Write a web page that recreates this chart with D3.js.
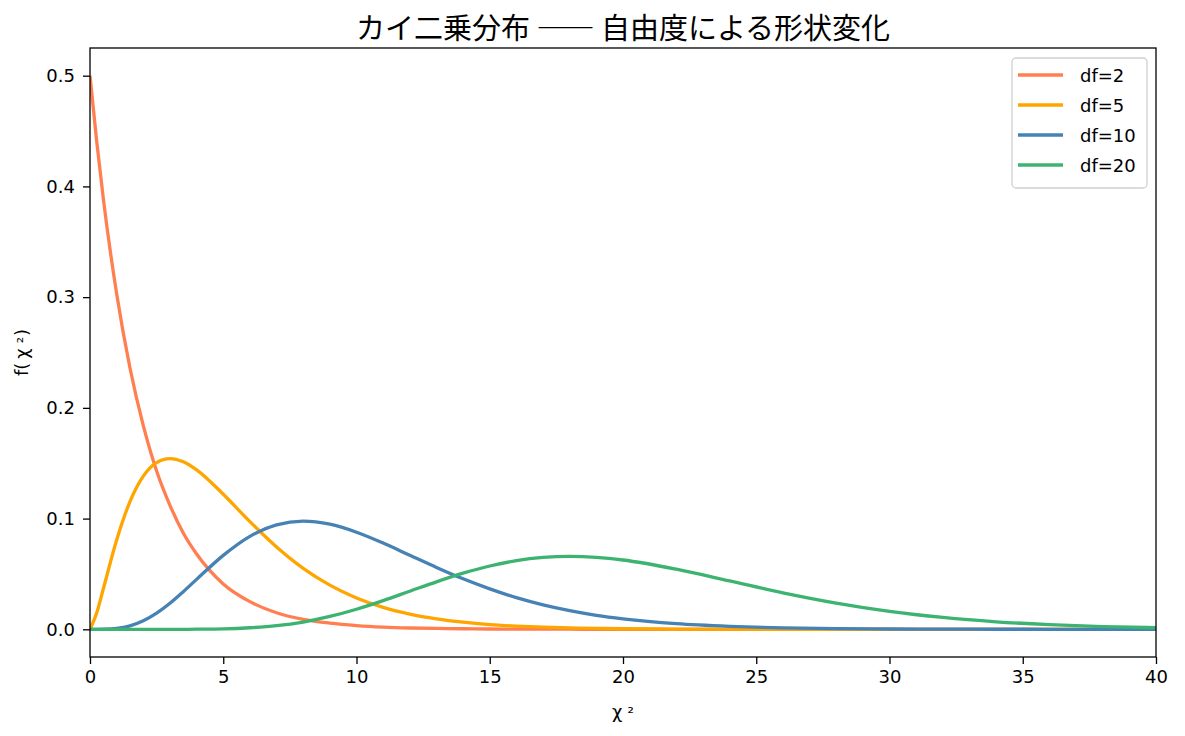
<!DOCTYPE html>
<html>
<head>
<meta charset="utf-8">
<script src="https://cdn.jsdelivr.net/npm/d3@7"></script>
<style>
  body { margin: 0; background: #fff; }
  text { fill: #000; }
</style>
</head>
<body>
<svg id="chart"></svg>
<script>
// values (x = chi-square, y = density)
var xs = [0, 0.25, 0.5, 1, 1.5, 2, 2.5, 3, 3.5, 4, 5, 6, 7, 8, 9, 10, 11, 12, 13, 14, 15, 16, 17, 18, 19, 20, 22, 24, 26, 28, 30, 32, 34, 36, 38, 40];
var df2 = [0.5, 0.441, 0.389, 0.303, 0.236, 0.184, 0.143, 0.112, 0.087, 0.068, 0.041, 0.025, 0.015, 0.009, 0.0056, 0.0034, 0.002, 0.0012, 0.0008, 0.0005, 0.0003, 0.0002, 0.0001, 0.0001, 0, 0, 0, 0, 0, 0, 0, 0, 0, 0, 0, 0];
var df5 = [0, 0.0147, 0.0366, 0.0807, 0.1154, 0.1384, 0.1506, 0.1542, 0.1513, 0.144, 0.122, 0.0973, 0.0744, 0.0551, 0.0399, 0.0283, 0.0198, 0.0137, 0.0094, 0.0064, 0.0043, 0.0029, 0.0019, 0.0013, 0.0008, 0.0005, 0.0002, 0.0001, 0, 0, 0, 0, 0, 0, 0, 0];
var df10 = [0, 0, 0.0001, 0.0008, 0.0031, 0.0077, 0.0146, 0.0235, 0.034, 0.0451, 0.0668, 0.084, 0.0944, 0.0977, 0.0949, 0.0877, 0.0779, 0.0669, 0.0559, 0.0456, 0.0365, 0.0286, 0.0221, 0.0169, 0.0127, 0.0095, 0.0051, 0.0027, 0.0013, 0.0007, 0.0003, 0.00015, 0.00007, 0.00003, 0, 0];
var df20 = [0, 0, 0, 0, 0, 0, 0, 0, 0, 0.0001, 0.0004, 0.0014, 0.0033, 0.0066, 0.0116, 0.0181, 0.0259, 0.0344, 0.0429, 0.0507, 0.0572, 0.062, 0.0649, 0.0659, 0.065, 0.0626, 0.0543, 0.0437, 0.033, 0.0237, 0.0162, 0.0107, 0.0068, 0.0042, 0.0025, 0.0015];
var seriesNames = ["df=2", "df=5", "df=10", "df=20"];
var seriesValues = [df2, df5, df10, df20];
var colors = ["#ff7f50", "#ffa500", "#4682b4", "#3cb371"];
var xTicks = [0, 5, 10, 15, 20, 25, 30, 35, 40];
var yTicks = [0, 0.1, 0.2, 0.3, 0.4, 0.5];

var W = 1185, H = 736;
var m = {left: 90, right: 29, top: 48, bottom: 79};
var latin = "'DejaVu Sans', sans-serif";
var cjk = "'Noto Sans CJK JP', sans-serif";
var svg = d3.select("#chart").attr("width", W).attr("height", H);

var x = d3.scaleLinear().domain([0, 40]).range([m.left, W - m.right]);
var y = d3.scaleLinear().domain([-0.025, 0.525]).range([H - m.bottom, m.top]);

var line = d3.line()
    .x(function(d) { return x(d[0]); })
    .y(function(d) { return y(d[1]); })
    .curve(d3.curveMonotoneX);

var plot = svg.append("g");
plot.append("clipPath").attr("id", "clip").append("rect")
    .attr("x", m.left).attr("y", m.top)
    .attr("width", W - m.left - m.right).attr("height", H - m.top - m.bottom);

seriesValues.forEach(function(vals, i) {
  plot.append("path")
      .datum(xs.map(function(v, j) { return [v, vals[j]]; }))
      .attr("clip-path", "url(#clip)")
      .attr("fill", "none")
      .attr("stroke", colors[i])
      .attr("stroke-width", 3.3)
      .attr("stroke-linejoin", "round")
      .attr("d", line);
});

// axes
var xAxis = svg.append("g")
    .attr("transform", `translate(0, ${H - m.bottom})`)
    .call(d3.axisBottom(x).tickValues(xTicks).tickSize(7).tickPadding(6).tickFormat(d3.format("d")));
var yAxis = svg.append("g")
    .attr("transform", `translate(${m.left}, 0)`)
    .call(d3.axisLeft(y).tickValues(yTicks).tickSize(7).tickPadding(8).tickFormat(d3.format(".1f")));
[xAxis, yAxis].forEach(function(a) {
  a.select(".domain").remove();
  a.selectAll("line").attr("stroke", "#000").attr("stroke-width", 1.3);
  a.selectAll("text").attr("font-size", 18).attr("fill", "#000").style("font-family", latin);
});

svg.append("rect")
    .attr("x", m.left).attr("y", m.top)
    .attr("width", W - m.left - m.right).attr("height", H - m.top - m.bottom)
    .attr("fill", "none").attr("stroke", "#000").attr("stroke-width", 1.3);

// title and labels
svg.append("text")
    .attr("x", (m.left + W - m.right) / 2).attr("y", 39)
    .attr("text-anchor", "middle").attr("font-size", 29)
    .style("font-family", cjk)
    .text("カイ二乗分布 ―― 自由度による形状変化");

var xl = svg.append("text")
    .attr("x", (m.left + W - m.right) / 2).attr("y", 718)
    .attr("text-anchor", "middle").attr("font-size", 18)
    .style("font-family", latin);
xl.append("tspan").text("χ");
xl.append("tspan").attr("dx", 5).attr("font-size", 16).text("²");

var yl = svg.append("text")
    .attr("transform", `translate(28, ${(m.top + H - m.bottom) / 2}) rotate(-90)`)
    .attr("text-anchor", "middle").attr("font-size", 18)
    .style("font-family", latin);
yl.append("tspan").text("f(");
yl.append("tspan").attr("dx", 4).text("χ");
yl.append("tspan").attr("dx", 5).attr("font-size", 16).text("²");
yl.append("tspan").attr("dx", 1).text(")");

// legend
var lg = svg.append("g").attr("transform", "translate(1012, 58)");
lg.append("rect")
    .attr("width", 135).attr("height", 130).attr("rx", 4)
    .attr("fill", "#fff").attr("fill-opacity", 0.8)
    .attr("stroke", "#d0d0d0").attr("stroke-width", 1.3);
seriesNames.forEach(function(name, i) {
  var yy = 17 + i * 30;
  lg.append("line")
      .attr("x1", 6).attr("x2", 51).attr("y1", yy).attr("y2", yy)
      .attr("stroke", colors[i]).attr("stroke-width", 3.3);
  lg.append("text")
      .attr("x", 68).attr("y", yy + 6.5)
      .attr("font-size", 18)
      .style("font-family", latin)
      .text(name);
});
</script>
</body>
</html>
